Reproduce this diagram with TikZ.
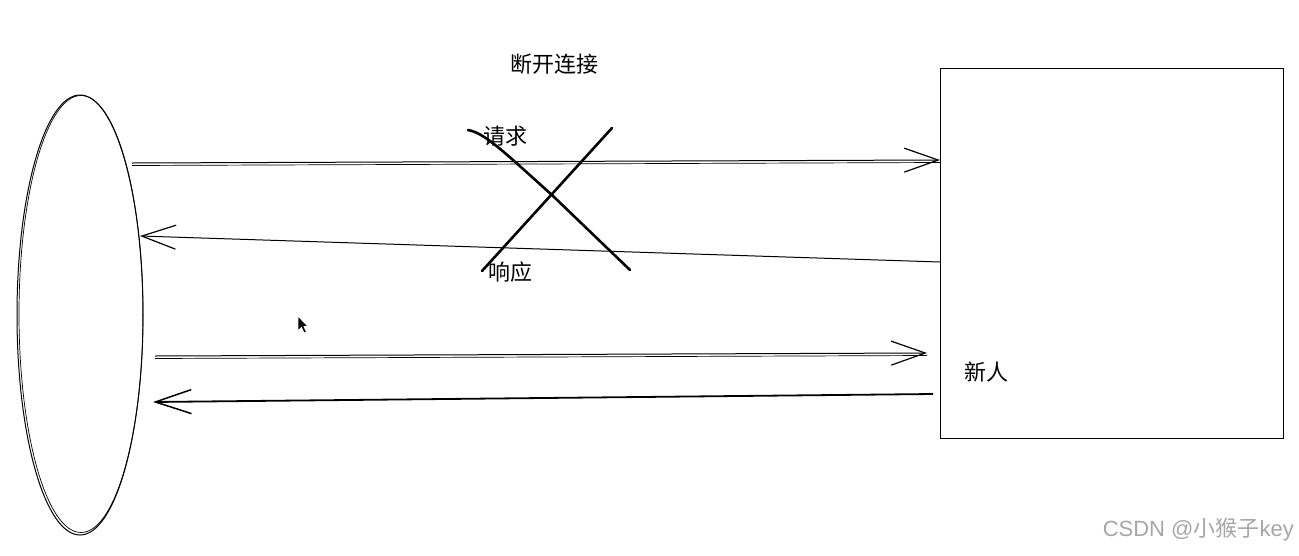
\documentclass[tikz,border=0pt]{standalone}
\usepackage{fontspec}
\newfontfamily\cjk{Noto Sans CJK SC}
\newfontfamily\wmfont{Liberation Sans}
\usetikzlibrary{shapes.geometric,arrows.meta}
\tikzset{
  sketch/.style={draw=black, line width=1pt},
  head/.style={-{Straight Barb[length=34pt,width=24pt,line width=1.2pt]}},
  label/.style={font=\cjk\fontsize{22}{26}\selectfont, inner sep=0pt},
  cross/.style={line width=2.6pt, line cap=round},
}
\begin{document}
\begin{tikzpicture}[x=1pt,y=-1pt]
\useasboundingbox (0,0) rectangle (1299,555);
% client ellipse
\node[ellipse, sketch, minimum width=126pt, minimum height=440pt, inner sep=0pt] (client) at (80,315) {};
\node[ellipse, draw=black, line width=0.7pt, minimum width=124pt, minimum height=437pt, inner sep=0pt] (client2) at (81,314) {};
% server rectangle
\node[rectangle, sketch, minimum width=343pt, minimum height=370pt, inner sep=0pt, anchor=north west] (server) at (940,68) {};
% labels
\node[label] (title) at (554,64) {断开连接};
\node[label] (req) at (505,136) {请求};
\node[label] (resp) at (510,272) {响应};
\node[label] (newp) at (986,372) {新人};
% endpoints
\coordinate (a1s) at (132,163); \coordinate (a1e) at (940,160);
\coordinate (a2s) at (940,262); \coordinate (a2e) at (140,236);
\coordinate (a3s) at (155,356); \coordinate (a3e) at (927,353);
\coordinate (a4s) at (933,394); \coordinate (a4e) at (153,402);
% arrows
\draw[sketch, head] (a1s) -- (a1e);
\draw[line width=0.7pt] ([yshift=-2.5pt]a1s) -- ([yshift=-2.5pt]a1e);
\draw[sketch, head] (a2s) -- (a2e);
\draw[sketch, head] (a3s) -- (a3e);
\draw[line width=0.7pt] ([yshift=-2.5pt]a3s) -- ([yshift=-2.5pt]a3e);
\draw[line width=1.8pt, -{Straight Barb[length=36pt,width=24pt,line width=1.5pt]}] (a4s) -- (a4e);
% cross
\draw[cross] (468,130) .. controls (484,133) and (500,148) .. (553,196) -- (630,270);
\draw[cross] (612,128) -- (482,271);
% cursor
\fill[black, draw=white, line width=0.8pt] (298,316) -- (298,331) -- (301.5,327.5) -- (304,333) -- (306.5,332) -- (304,326.5) -- (308,326.5) -- cycle;
% watermark
\node[anchor=east, inner sep=0pt, text=black!35, font=\wmfont\fontsize{22}{24}\selectfont] (wm) at (1294,530) {CSDN @{\cjk 小猴子}key};
\end{tikzpicture}
\end{document}
